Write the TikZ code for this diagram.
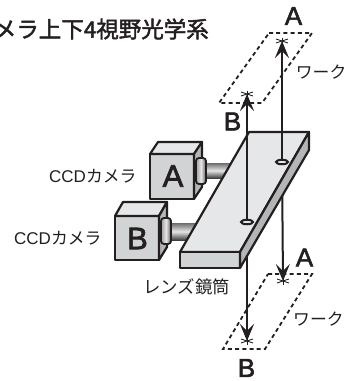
\documentclass[tikz,border=0pt]{standalone}
\usepackage{fontspec}
\setmainfont{Liberation Sans}
\newfontfamily\jpfont{Noto Sans CJK JP}
\newfontfamily\titlefont[FakeBold=2]{Noto Sans CJK JP}
\newfontfamily\letterfont[FakeBold=2.2]{Liberation Sans}
\usetikzlibrary{arrows.meta,calc,shapes.geometric}
\definecolor{ink}{HTML}{231F20}
\definecolor{lightface}{HTML}{E6E7E8}
\definecolor{midface}{HTML}{D1D3D4}
\definecolor{darkface}{HTML}{B3B5B7}
\tikzset{
  x=1pt,y=-1pt,
  solid edge/.style={draw=ink,line width=2.2pt,line join=round},
  beam/.style={draw=ink,line width=2pt},
  beamhead/.style={beam,-{Stealth[length=17pt,width=14pt,inset=7pt]},shorten >=0pt},
  spark/.style={draw=ink,line width=.8pt},
  dash box/.style={draw=ink,line width=1.8pt,dash pattern=on 4pt off 3.2pt},
  bigletter/.style={font=\letterfont\fontsize{26}{26}\selectfont,text=ink,inner sep=0pt},
  camletter/.style={font=\letterfont\fontsize{31}{31}\selectfont,text=ink,inner sep=0pt},
  jplabel/.style={font=\jpfont\fontsize{16.8}{18}\selectfont,text=ink,inner sep=0pt},
  hole/.style={ellipse,draw=ink,line width=2pt,fill=lightface,minimum width=12pt,minimum height=4.5pt,inner sep=0pt},
  rod/.style={top color=gray!85!black,bottom color=black!75,middle color=white!80!gray,draw=none},
  collar/.style={left color=gray!75,right color=gray!75!black,middle color=white!80!gray,draw=ink,line width=1.8pt,rounded corners=3pt},
}
\newcommand{\sparkat}[1]{%
  \draw[spark] ($(#1)+(-6,-2)$) -- ($(#1)+(6,2)$);
  \draw[spark] ($(#1)+(-6,2)$) -- ($(#1)+(6,-2)$);
  \draw[spark] ($(#1)+(0,-3.5)$) -- ($(#1)+(0,3.5)$);
}
\newcommand{\ccdlabel}{{\rmfamily\fontsize{17}{18}\selectfont CCD}カメラ}
\begin{document}
\begin{tikzpicture}
\useasboundingbox (0,0) rectangle (347,381);
% title
\node[anchor=east,inner sep=0pt,text=ink,font=\titlefont\fontsize{22.5}{23}\selectfont] (title) at (209,29) {メラ上下4視野光学系};
% work planes
\draw[dash box] (269,33) -- (312,33) -- (262,103) -- (219,103) -- cycle;
\draw[dash box] (268,274) -- (312,274) -- (265,349) -- (223,349) -- cycle;
% spark points
\coordinate (topA) at (282,41);
\coordinate (topB) at (247,94);
\coordinate (botA) at (283,281);
\coordinate (botB) at (247,341);
\coordinate (holeA) at (282,162);
\coordinate (holeB) at (247,222);
% lower beams pass behind the barrel
\draw[beamhead] (holeA) -- (botA);
\draw[beamhead] (holeB) -- (botB);
\sparkat{topA}\sparkat{topB}\sparkat{botA}\sparkat{botB}
% camera A
\fill[rod] (203,163) rectangle (240,178);
\draw[solid edge,fill=midface] (150,154) rectangle (194,199);
\draw[solid edge,fill=lightface] (150,154) -- (158,142) -- (202,142) -- (194,154) -- cycle;
\draw[solid edge,fill=darkface] (194,154) -- (202,142) -- (202,187) -- (194,199) -- cycle;
\draw[collar] (196,158) rectangle (206,184);
\node[camletter] (camA) at (173,176) {A};
% camera B
\fill[rod] (170,223) rectangle (205,240);
\draw[solid edge,fill=midface] (115,216) rectangle (159,260);
\draw[solid edge,fill=lightface] (115,216) -- (123,202) -- (167,202) -- (159,216) -- cycle;
\draw[solid edge,fill=darkface] (159,216) -- (167,202) -- (167,247) -- (159,260) -- cycle;
\draw[collar] (161,218) rectangle (171,244);
\node[camletter] (camB) at (137.5,238.5) {B};
% barrel
\draw[solid edge,fill=lightface] (249,132) -- (309,132) -- (240,252) -- (180,252) -- cycle;
\draw[solid edge,fill=midface] (180,252) rectangle (240,268);
\draw[solid edge,fill=darkface] (309,132) -- (309,150) -- (240,268) -- (240,252) -- cycle;
\node[hole] (hA) at (holeA) {};
\node[hole] (hB) at (holeB) {};
% upper beams
\draw[beamhead] (hA.north) -- (topA);
\draw[beamhead] (hB.north) -- (topB);
% labels
\node[bigletter] (la1) at (293.5,16) {A};
\node[bigletter] (lb1) at (232.5,121.5) {B};
\node[bigletter] (la2) at (304.5,257.5) {A};
\node[bigletter] (lb2) at (246.5,368) {B};
\node[jplabel,anchor=east] (w1) at (346.5,72) {ワーク};
\node[jplabel,anchor=west] (w2) at (293,319) {ワーク};
\node[jplabel,anchor=west,font=\jpfont\fontsize{17.4}{18}\selectfont] (lens) at (143,287) {レンズ鏡筒};
\node[jplabel,anchor=west] (ca) at (49,176) {\ccdlabel};
\node[jplabel,anchor=west] (cb) at (14,238) {\ccdlabel};
\end{tikzpicture}
\end{document}
